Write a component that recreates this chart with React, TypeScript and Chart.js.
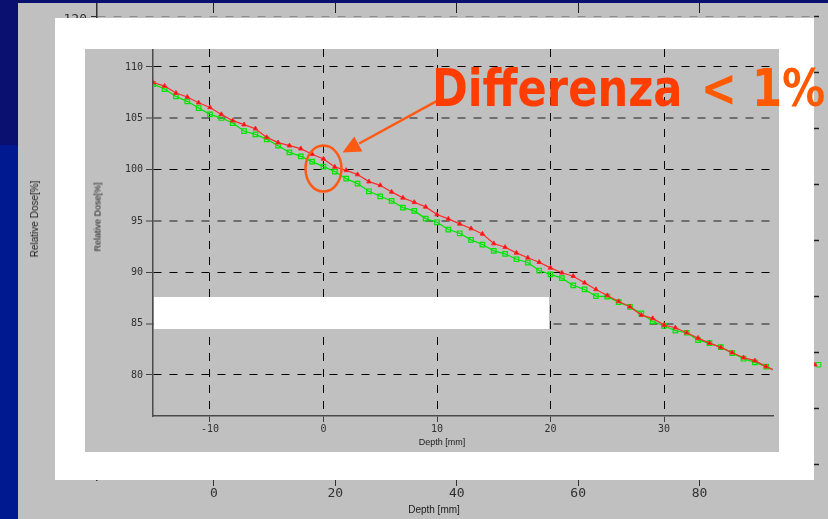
import React, { useEffect, useRef } from "react";
import { Chart, registerables } from "chart.js";

Chart.register(...registerables);

// ---------- data ----------
const depthMm = [
  -15, -14, -13, -12, -11, -10, -9, -8, -7, -6,
  -5, -4, -3, -2, -1, 0, 1, 2, 3, 4,
  5, 6, 7, 8, 9, 10, 11, 12, 13, 14,
  15, 16, 17, 18, 19, 20, 21, 22, 23, 24,
  25, 26, 27, 28, 29, 30, 31, 32, 33, 34,
  35, 36, 37, 38, 39, 39.6,
];

const doseRed = [
  108.49, 108.14, 107.46, 107.07, 106.52, 106.06, 105.38, 104.77, 104.38, 103.99,
  103.14, 102.63, 102.33, 102.04, 101.5, 101.04, 100.26, 99.93, 99.52, 98.83,
  98.47, 97.83, 97.25, 96.82, 96.37, 95.62, 95.2, 94.72, 94.26, 93.74,
  92.8, 92.44, 91.89, 91.41, 90.98, 90.43, 89.95, 89.62, 88.98, 88.33,
  87.74, 87.16, 86.64, 85.83, 85.51, 84.86, 84.6, 84.11, 83.59, 83.1,
  82.68, 82.17, 81.68, 81.39, 80.81, 80.52,
];

const doseGreen = [
  108.33, 107.85, 107.13, 106.65, 106.0, 105.38, 105.03, 104.54, 103.76, 103.43,
  102.95, 102.33, 101.68, 101.29, 100.78, 100.29, 99.81, 99.12, 98.64, 97.89,
  97.4, 96.95, 96.3, 95.98, 95.23, 94.87, 94.16, 93.8, 93.16, 92.7,
  92.09, 91.8, 91.27, 90.95, 90.17, 89.79, 89.43, 88.72, 88.33, 87.68,
  87.62, 87.09, 86.64, 85.99, 85.21, 84.79, 84.31, 84.11, 83.39, 83.1,
  82.71, 82.13, 81.58, 81.22, 80.81, 80.52,
];

const innerXTicks = [-10, 0, 10, 20, 30];
const innerYTicks = [80, 85, 90, 95, 100, 105, 110];

const outerXTicks = [0, 20, 40, 60, 80];
const outerYTicks = [40, 50, 60, 70, 80, 90, 100, 110, 120];
const outerRedPoint = [{ x: 99.0, y: 57.9 }];
const outerGreenPoint = [{ x: 99.6, y: 57.9 }];

const calloutText = "Differenza";
const calloutText2 = "< 1%";

// ---------- styles ----------
const GRAY = "#c0c0c0";
const RED = "#ff2a2a";
const RED_FILL = "#e81010";
const GREEN = "#00e400";
const ORANGE = "#ff5a14";
const MONO = "'DejaVu Sans Mono', monospace";
const SANS = "'Liberation Sans', Arial, sans-serif";

const setTicks = (vals: number[]) => (s: any) => {
  s.ticks = vals.map((v) => ({ value: v }));
};

const fitTo = (prop: "width" | "height", size: number) => (s: any) => {
  s[prop] = size;
  s.paddingTop = 0;
  s.paddingBottom = 0;
  s.paddingLeft = 0;
  s.paddingRight = 0;
};

const calloutPlugin = {
  id: "callout",
  afterDatasetsDraw(chart: any) {
    const { ctx, scales } = chart;
    const cx = scales.x.getPixelForValue(0);
    const cy = scales.y.getPixelForValue(100.1);
    ctx.save();
    ctx.strokeStyle = ORANGE;
    ctx.fillStyle = ORANGE;
    ctx.lineWidth = 2.5;
    ctx.beginPath();
    ctx.ellipse(cx, cy, 18, 23, 0, 0, Math.PI * 2);
    ctx.stroke();
    // arrow
    const tipX = cx + 19;
    const tipY = cy - 16;
    const tailX = tipX + 95;
    const tailY = tipY - 52;
    const len = Math.hypot(tailX - tipX, tailY - tipY);
    const ux = (tailX - tipX) / len;
    const uy = (tailY - tipY) / len;
    const px = -uy;
    const py = ux;
    const headLen = 18;
    const halfW = 8.5;
    const bx = tipX + ux * headLen;
    const by = tipY + uy * headLen;
    ctx.beginPath();
    ctx.moveTo(tailX, tailY);
    ctx.lineTo(bx + ux * 1, by + uy * 1);
    ctx.stroke();
    ctx.beginPath();
    ctx.moveTo(tipX, tipY);
    ctx.lineTo(bx + px * halfW, by + py * halfW);
    ctx.lineTo(bx - px * halfW, by - py * halfW);
    ctx.closePath();
    ctx.fill();
    ctx.restore();
  },
};

function App() {
  const outerRef = useRef<HTMLCanvasElement | null>(null);
  const innerRef = useRef<HTMLCanvasElement | null>(null);

  useEffect(() => {
    const outer = new Chart(outerRef.current as HTMLCanvasElement, {
      type: "line",
      data: {
        datasets: [
          {
            data: outerRedPoint,
            showLine: false,
            clip: false,
            pointStyle: "triangle",
            pointRadius: 2.5,
            pointBackgroundColor: RED_FILL,
            pointBorderColor: RED,
            borderColor: RED,
          },
          {
            data: outerGreenPoint,
            showLine: false,
            clip: false,
            pointStyle: "rect",
            pointRadius: 3.2,
            pointBackgroundColor: "rgba(0,0,0,0)",
            pointBorderColor: GREEN,
            borderColor: GREEN,
          },
        ],
      } as any,
      options: {
        responsive: false,
        animation: false,
        devicePixelRatio: 1,
        layout: { autoPadding: false, padding: 0 },
        plugins: { legend: { display: false }, tooltip: { enabled: false } },
        scales: {
          x: {
            type: "linear",
            min: -19.27,
            max: 98.85,
            afterBuildTicks: setTicks(outerXTicks),
            afterFit: fitTo("height", 39),
            grid: { color: "#202020", lineWidth: 1, tickLength: 6, tickColor: "#303030", tickWidth: 1 },
            border: { display: false, dash: [10, 8] },
            ticks: {
              font: { family: MONO, size: 13 },
              color: "#303030",
              padding: 0,
              maxRotation: 0,
              autoSkip: false,
              callback: (v: any) => String(v),
            },
          },
          y: {
            type: "linear",
            position: "left",
            min: 37.32,
            max: 122.5,
            afterBuildTicks: setTicks(outerYTicks),
            afterFit: fitTo("width", 79),
            grid: { color: "#8a8a8a", lineWidth: 1, tickLength: 6, tickColor: "#303030", tickWidth: 1 },
            border: { display: true, color: "#303030", width: 1.5, dash: [8, 8] },
            ticks: {
              font: { family: MONO, size: 13 },
              color: "#303030",
              padding: 4,
              labelOffset: 3,
              autoSkip: false,
              callback: (v: any) => String(v),
            },
          },
          y2: {
            type: "linear",
            position: "right",
            min: 37.32,
            max: 122.5,
            afterBuildTicks: setTicks(outerYTicks),
            afterFit: fitTo("width", 14),
            grid: { drawOnChartArea: false, tickLength: 5, tickColor: "#202020", tickWidth: 1.5 },
            border: { display: false },
            ticks: { display: false },
          },
        },
      } as any,
    });

    const inner = new Chart(innerRef.current as HTMLCanvasElement, {
      type: "line",
      data: {
        datasets: [
          {
            data: depthMm.map((x, i) => ({ x, y: doseRed[i] })),
            borderColor: RED,
            borderWidth: 1.2,
            tension: 0,
            fill: false,
            pointStyle: "triangle",
            pointRadius: (c: any) => (c.raw && c.raw.x > 39.5 ? 0 : 2.6),
            pointBackgroundColor: RED_FILL,
            pointBorderColor: RED,
            pointBorderWidth: 1,
          },
          {
            data: depthMm.map((x, i) => ({ x, y: doseGreen[i] })),
            borderColor: GREEN,
            borderWidth: 1.2,
            tension: 0,
            fill: false,
            pointStyle: "rect",
            pointRadius: (c: any) => (c.raw && c.raw.x > 39.5 ? 0 : 3.2),
            pointBackgroundColor: "rgba(0,0,0,0)",
            pointBorderColor: GREEN,
            pointBorderWidth: 1.2,
          },
        ],
      } as any,
      options: {
        responsive: false,
        animation: false,
        devicePixelRatio: 1,
        layout: { autoPadding: false, padding: { left: 0, right: 6, top: 0, bottom: 0 } },
        plugins: { legend: { display: false }, tooltip: { enabled: false } },
        scales: {
          x: {
            type: "linear",
            min: -15.02,
            max: 39.6,
            afterBuildTicks: setTicks(innerXTicks),
            afterFit: fitTo("height", 36),
            grid: { color: "#000000", lineWidth: 1, tickLength: 6, tickColor: "#404040", tickWidth: 1 },
            border: { display: true, color: "#4a4a4a", width: 1.5, dash: [8, 8] },
            ticks: {
              font: { family: MONO, size: 10 },
              color: "#303030",
              padding: 1,
              maxRotation: 0,
              autoSkip: false,
              callback: (v: any) => String(v),
            },
          },
          y: {
            type: "linear",
            min: 76.0,
            max: 111.75,
            afterBuildTicks: setTicks(innerYTicks),
            afterFit: fitTo("width", 68),
            grid: {
              color: (c: any) => (c.tick && c.tick.value % 10 === 0 ? "#000000" : "#6e6e6e"),
              lineWidth: (c: any) => (c.tick && c.tick.value % 10 === 0 ? 1 : 2),
              tickLength: 7,
              tickColor: "#404040",
              tickWidth: 1,
            },
            border: { display: true, color: "#4a4a4a", width: 1.5, dash: [8, 8] },
            ticks: {
              font: { family: MONO, size: 10 },
              color: "#303030",
              padding: 3,
              autoSkip: false,
              callback: (v: any) => String(v),
            },
          },
        },
      } as any,
      plugins: [calloutPlugin],
    });

    return () => {
      outer.destroy();
      inner.destroy();
    };
  }, []);

  const abs = (l: number, t: number, w: number, h: number, bg: string): React.CSSProperties => ({
    position: "absolute",
    left: l,
    top: t,
    width: w,
    height: h,
    background: bg,
  });

  const label = (x: number, y: number, size: number, rotate: boolean): React.CSSProperties => ({
    position: "absolute",
    left: x,
    top: y,
    transform: `translate(-50%, -50%)${rotate ? " rotate(-90deg)" : ""}`,
    fontFamily: SANS,
    fontSize: size,
    lineHeight: 1,
    color: "#202020",
    whiteSpace: "nowrap",
  });

  return (
    <div
      style={{
        position: "fixed",
        left: 0,
        top: 0,
        width: 828,
        height: 519,
        overflow: "hidden",
        background: "#001890",
      }}
    >
      <div style={abs(0, 0, 18, 145, "#0a1070")} />
      <div style={abs(0, 0, 828, 3, "#0a1070")} />
      <div style={abs(18, 3, 810, 516, GRAY)}>
        <canvas ref={outerRef} width={810} height={516} style={{ display: "block", width: 810, height: 516 }} />
      </div>
      <div style={label(35, 219, 10, true)}>Relative Dose[%]</div>
      <div style={label(434, 510, 10, false)}>Depth [mm]</div>
      <div style={abs(55, 18, 759, 462, "#ffffff")} />
      <div style={abs(85, 49, 694, 403, GRAY)}>
        <canvas ref={innerRef} width={694} height={403} style={{ display: "block", width: 694, height: 403 }} />
      </div>
      <div style={abs(154, 297, 395, 32, "#ffffff")} />
      <div style={label(98, 217, 9, true)}>Relative Dose[%]</div>
      <div style={label(442, 442, 9, false)}>Depth [mm]</div>
      <div
        style={{
          position: "absolute",
          left: 432,
          top: 62,
          fontFamily: "'DejaVu Sans', Verdana, sans-serif",
          fontWeight: "bold",
          fontSize: 52,
          lineHeight: "52px",
          whiteSpace: "nowrap",
          transform: "scaleX(0.83)",
          transformOrigin: "0 0",
        }}
      >
        <span style={{ color: "#ff3d00" }}>{calloutText}</span>
        <span style={{ color: "#ff5a00", marginLeft: 4 }}> {calloutText2}</span>
      </div>
    </div>
  );
}

export default App;
